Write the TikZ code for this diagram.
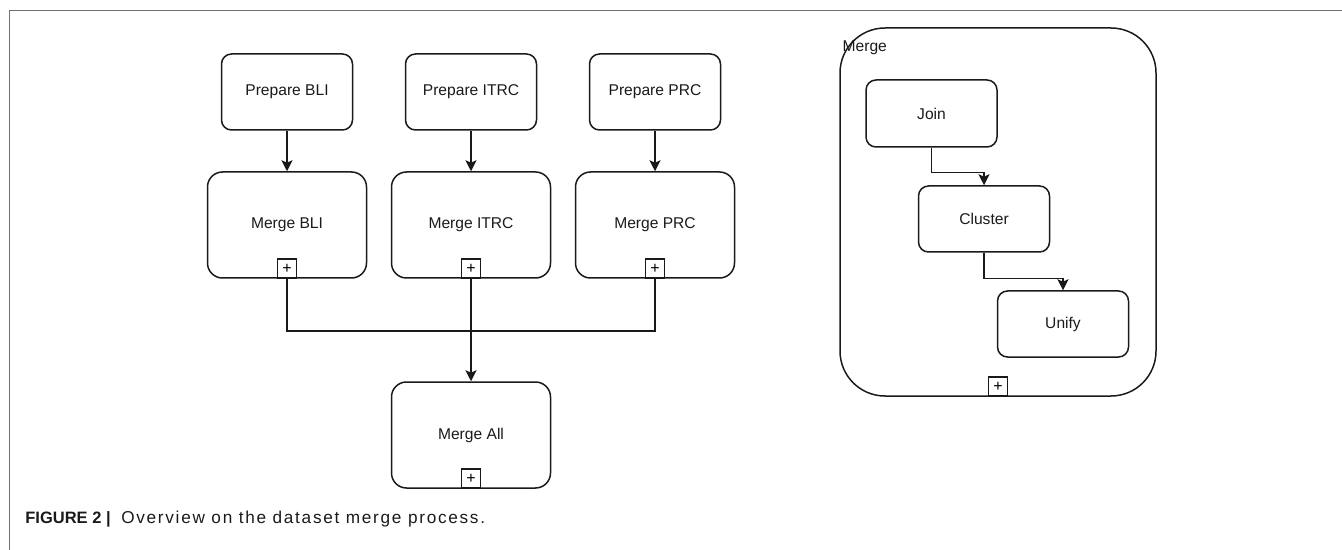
\documentclass[tikz,border=0pt]{standalone}
\usepackage{fontspec}
\setmainfont{Liberation Sans}
\newfontfamily\capfont[LetterSpace=10]{Liberation Sans}
\usetikzlibrary{arrows.meta,positioning,calc}
\definecolor{framegray}{HTML}{707070}
\definecolor{ink}{HTML}{1A1A1A}
\tikzset{
  prepbox/.style={draw=ink, line width=0.75pt, rounded corners=5pt,
                  minimum width=65.5pt, minimum height=38pt, inner sep=0pt,
                  align=center, text=ink, font=\fontsize{7.8}{9}\selectfont},
  mergebox/.style={prepbox, rounded corners=7.5pt,
                   minimum width=79.5pt, minimum height=53pt},
  plusbox/.style={draw=ink, line width=0.7pt, fill=white, minimum size=9.5pt,
                  inner sep=0pt, anchor=south, font=\fontsize{8}{8}\selectfont},
  arr/.style={-{Stealth[length=5.5pt, width=5.5pt, inset=1.2pt]}, line width=0.75pt, color=ink},
  ln/.style={line width=0.75pt, color=ink}}
\begin{document}
\begin{tikzpicture}[x=0.5pt, y=-0.5pt]
    \useasboundingbox (0,0) rectangle (1342,550);
    % page frame
    \draw[framegray, line width=0.7pt] (9.5,550) -- (9.5,10.5) -- (1342,10.5);
    % left: three sources merged into one
    \node[prepbox] (prepBLI)  at (287,92) {Prepare BLI};
    \node[prepbox] (prepITRC) at (471,92) {Prepare ITRC};
    \node[prepbox] (prepPRC)  at (655,92) {Prepare PRC};
    \node[mergebox] (mBLI)  at (287,225) {Merge BLI};
    \node[mergebox] (mITRC) at (471,225) {Merge ITRC};
    \node[mergebox] (mPRC)  at (655,225) {Merge PRC};
    \node[mergebox] (mAll)  at (471,435) {Merge All};
    \node[plusbox] (pBLI)  at (mBLI.south)  {+};
    \node[plusbox] (pITRC) at (mITRC.south) {+};
    \node[plusbox] (pPRC)  at (mPRC.south)  {+};
    \node[plusbox] (pAll)  at (mAll.south)  {+};
    \draw[arr] (prepBLI) -- (mBLI);
    \draw[arr] (prepITRC) -- (mITRC);
    \draw[arr] (prepPRC) -- (mPRC);
    \coordinate (join) at (471,331);
    \draw[ln] (pBLI.south) |- (join);
    \draw[ln] (pPRC.south) |- (join);
    \draw[arr] (pITRC.south) -- (mAll.north);
    % right: inside one merge step
    \node[draw=ink, line width=0.75pt, rounded corners=22.5pt,
          minimum width=158pt, minimum height=184pt] (mproc) at (998,212) {};
    \node[anchor=north west, inner sep=0pt, text=ink, font=\fontsize{7.8}{9}\selectfont]
      (mproclabel) at ($(mproc.north west)+(3,13)$) {Merge};
    \node[plusbox] (pProc) at (mproc.south) {+};
    \node[prepbox, minimum height=33.5pt] (joinstep)    at (931.5,113.5) {Join};
    \node[prepbox, minimum height=33pt]   (clusterstep) at (984,219)     {Cluster};
    \node[prepbox, minimum height=33pt]   (unifystep)   at (1063,324)    {Unify};
    \draw[arr] (joinstep.south) -- ++(0,25) -| (clusterstep.north);
    \draw[arr] (clusterstep.south) -- ++(0,26) -| (unifystep.north);
    % caption
    \node[anchor=base west, inner sep=0pt, text=ink, font=\fontsize{8.25}{10}\selectfont]
      (caption) at (25,523) {\textbf{FIGURE 2 |}\hspace{3pt} {\fontsize{8.6}{10}\capfont Overview on the dataset merge process.}};
  \end{tikzpicture}
\end{document}
